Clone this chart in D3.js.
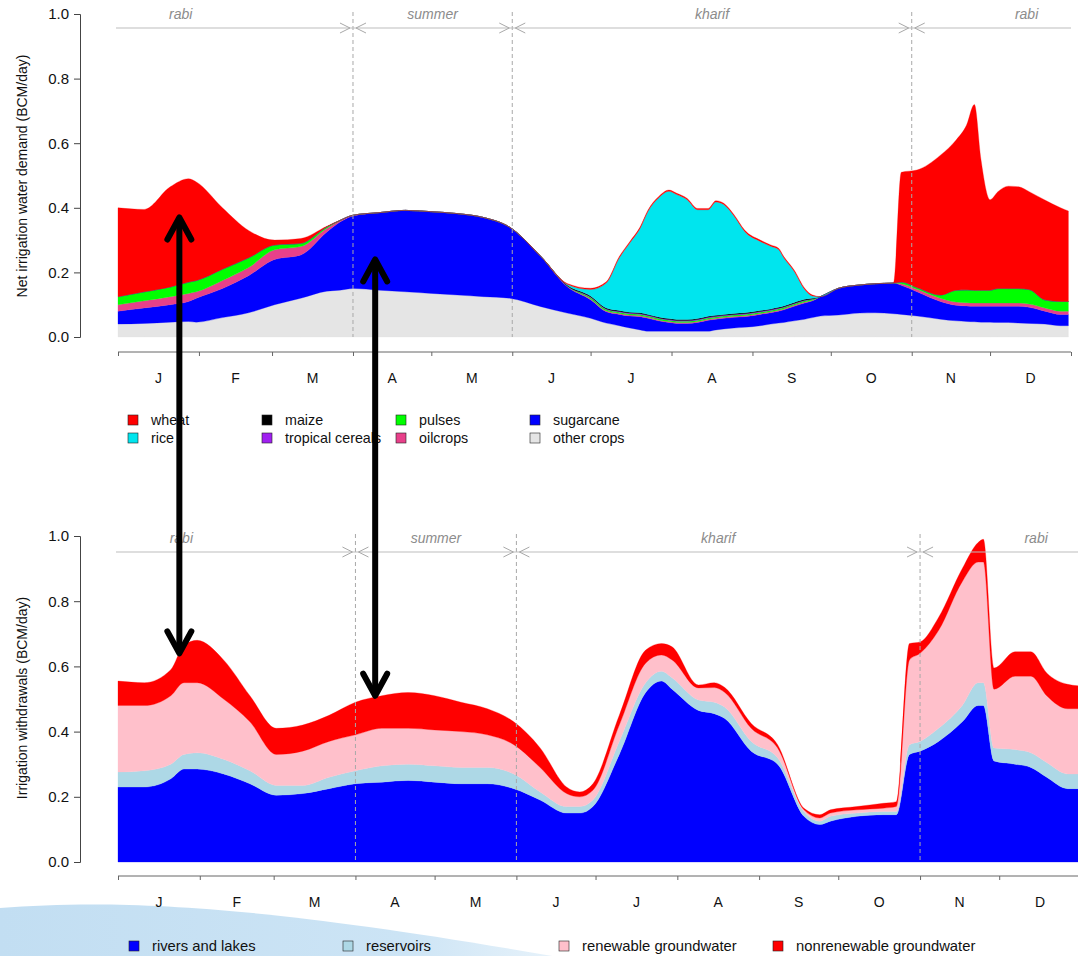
<!DOCTYPE html>
<meta charset="utf-8">
<style>
    body { margin: 0; background: #fff; }
    svg { display: block; font-family: "Liberation Sans", Arial, sans-serif; }
</style>
<body>
<svg width="1078" height="956"></svg>
<script src="https://d3js.org/d3.v7.min.js"></script>
<script>
// month / season bookkeeping (day of year)
var monthDays = [0, 31, 59, 90, 120, 151, 181, 212, 243, 273, 304, 334, 365];
var monthLabels = ["J", "F", "M", "A", "M", "J", "J", "A", "S", "O", "N", "D"];
var seasonBreaks = [90, 151, 304];
var seasonNames = ["rabi", "summer", "kharif", "rabi"];
var seasonLabelDays = [24, 120.5, 227.5, 348];
var yTicks = [0, 0.2, 0.4, 0.6, 0.8, 1.0];

// top panel: net irrigation water demand by crop (BCM/day)
var demandDays = [0, 10, 20, 27, 30, 40, 50, 60, 70, 80,
    85, 90, 100, 110, 120, 130, 140, 150, 162, 172,
    181, 187, 192, 196, 200, 203, 207, 211, 214, 218,
    222, 226, 229, 232, 236, 240, 246, 250, 253, 255,
    259, 263, 266, 269, 276, 284, 290, 297, 300, 306,
    315, 321, 325, 328, 330.5, 334, 337, 341, 345, 349,
    355, 361, 364];
var otherCrops = [.04, .042, .046, .048, .046, .06, .075, .10, .12, .142,
    .145, .15, .145, .14, .135, .13, .125, .12, .094, .074,
    .058, .043, .035, .028, .022, .018, .018, .018, .018, .018,
    .018, .018, .022, .025, .028, .03, .035, .04, .043, .045,
    .05, .055, .06, .065, .068, .074, .075, .072, .07, .065,
    .055, .05, .048, .047, .046, .046, .045, .045, .043, .042,
    .04, .035, .035];
var sugarcane = [.04, .048, .054, .062, .074, .09, .115, .14, .134, .183,
    .211, .225, .24, .252, .253, .252, .245, .22, .155, .082,
    .057, .035, .035, .037, .041, .04, .032, .027, .024, .024,
    .027, .034, .033, .033, .033, .033, .035, .035, .037, .039,
    .045, .05, .052, .06, .083, .087, .09, .095, .09, .075,
    .055, .048, .048, .048, .049, .049, .05, .05, .052, .05,
    .04, .035, .035];
var oilcrops = [.02, .022, .025, .025, .02, .025, .025, .03, .026, .012,
    .004, .002, 0, 0, 0, 0, 0, 0, 0, .002,
    .003, .003, .003, .003, .003, .003, .003, .003, .003, .003,
    .003, .003, .003, .003, .003, .003, .003, .003, .003, .003,
    .003, .003, .002, 0, 0, 0, 0, 0, .005, .008,
    .01, .01, .01, .01, .01, .01, .01, .01, .01, .01,
    .01, .01, .01];
var pulses = [.025, .028, .03, .035, .035, .035, .03, .015, .01, .004,
    .001, 0, 0, 0, 0, 0, 0, 0, 0, .001,
    .004, .004, .004, .004, .004, .004, .004, .004, .004, .004,
    .004, .004, .004, .004, .004, .004, .004, .004, .004, .004,
    .004, .004, .003, 0, 0, 0, 0, 0, .005, .005,
    .01, .037, .04, .04, .04, .04, .045, .045, .045, .045,
    .025, .03, .03];
var tropicalCereals = [0, 0, 0, 0, 0, 0, 0, 0, 0, 0,
    0, 0, 0, 0, 0, 0, 0, 0, 0, 0,
    .002, .002, .002, .002, .002, .002, .002, .002, .002, .002,
    .002, .002, .002, .002, .002, .002, .002, .002, .002, .002,
    .002, .002, .001, 0, 0, 0, 0, 0, 0, 0,
    0, 0, 0, 0, 0, 0, 0, 0, 0, 0,
    0, 0, 0];
var maize = [0, 0, 0, 0, 0, 0, 0, 0, 0, 0,
    0, 0, 0, 0, 0, 0, 0, 0, 0, .002,
    .003, .003, .003, .003, .003, .003, .003, .003, .003, .003,
    .003, .003, .003, .003, .003, .003, .003, .003, .003, .003,
    .003, .003, .002, 0, 0, 0, 0, 0, 0, 0,
    0, 0, 0, 0, 0, 0, 0, 0, 0, 0,
    0, 0, 0];
var rice = [0, 0, 0, 0, 0, 0, 0, 0, 0, 0,
    0, 0, 0, 0, 0, 0, 0, 0, 0, .002,
    .02, .077, .163, .214, .262, .319, .368, .394, .387, .371,
    .337, .330, .351, .34, .301, .252, .214, .194, .179, .149,
    .096, .03, .007, 0, 0, 0, 0, 0, 0, 0,
    0, 0, 0, 0, 0, 0, 0, 0, 0, 0,
    0, 0, 0];
var wheat = [.275, .255, .31, .32, .305, .19, .085, .015, .015, .002,
    0, 0, 0, 0, 0, 0, 0, 0, 0, .003,
    .004, .004, .004, .004, .004, .004, .004, .004, .004, .004,
    .004, .004, .004, .004, .004, .004, .004, .004, .004, .004,
    .004, .004, .003, 0, 0, 0, 0, 0, .34, .364,
    .433, .465, .51, .575, .405, .28, .30, .317, .315, .303,
    .309, .29, .28];

// bottom panel: irrigation withdrawals by source (BCM/day)
var withdrawalDays = [0, 10, 20, 25, 30, 40, 50, 60, 70, 80, 90, 100, 110, 120, 130, 140, 150, 160, 170, 175, 180, 190, 200, 206, 210, 220, 226, 230, 240, 250, 260, 266, 270, 280, 290, 295, 300, 304, 311, 320, 326, 328, 332, 340, 346, 352, 360, 365];
var riversLakes = [.23, .23, .255, .285, .285, .27, .24, .205, .21, .225, .24, .245, .25, .245, .24, .24, .225, .19, .15, .15, .17, .33, .52, .555, .53, .465, .455, .44, .34, .30, .14, .115, .125, .14, .145, .145, .33, .34, .37, .43, .48, .48, .31, .30, .29, .26, .225, .225];
var reservoirs = [.046, .05, .045, .045, .05, .045, .04, .03, .025, .035, .04, .05, .05, .05, .05, .05, .045, .025, .02, .02, .02, .04, .03, .03, .035, .032, .035, .035, .03, .02, .015, .01, .015, .01, .01, .01, .03, .03, .04, .05, .07, .07, .04, .045, .045, .045, .045, .045];
var renewableGw = [.204, .20, .21, .22, .215, .185, .15, .095, .105, .11, .11, .115, .11, .11, .11, .10, .09, .075, .04, .03, .03, .05, .06, .05, .055, .037, .045, .045, .04, .03, .005, .01, .01, .01, .01, .015, .26, .27, .30, .38, .37, .37, .18, .225, .235, .205, .20, .20];
var nonrenewableGw = [.075, .07, .08, .115, .13, .12, .08, .08, .08, .08, .10, .10, .11, .105, .09, .08, .07, .06, .02, .015, .02, .03, .04, .035, .04, .009, .015, .015, .015, .01, .005, .01, .01, .01, .015, .015, .05, .035, .04, .04, .06, .07, .065, .075, .075, .07, .075, .07];

var svg = d3.select("svg");

// light blue swoosh in the lower left corner (slide background)
var grad = svg.append("defs").append("linearGradient")
    .attr("id", "swoosh").attr("x1", "0").attr("x2", "1").attr("y1", "0").attr("y2", "0");
grad.append("stop").attr("offset", "0").attr("stop-color", "#c2def2");
grad.append("stop").attr("offset", "0.7").attr("stop-color", "#cce4f5");
grad.append("stop").attr("offset", "1").attr("stop-color", "#eaf4fb");
svg.append("path")
    .attr("d", "M0,908 C120,899 260,904 575,960 L0,960 Z")
    .attr("fill", "url(#swoosh)");

function drawPanel(cfg) {
    var x = d3.scaleLinear().domain([0, 365]).range(cfg.xRange);
    var y = d3.scaleLinear().domain([0, 1]).range(cfg.yRange);
    var g = svg.append("g");

    var rows = cfg.days.map(function(d, i) {
        var r = { day: d };
        cfg.series.forEach(function(s) { r[s.key] = s.values[i]; });
        return r;
    });
    var stack = d3.stack().keys(cfg.series.map(function(s) { return s.key; }));
    var area = d3.area()
        .curve(d3.curveMonotoneX)
        .x(function(d) { return x(d.data.day); })
        .y0(function(d) { return y(d[0]); })
        .y1(function(d) { return y(d[1]); });

    g.selectAll(".layer")
        .data(stack(rows))
        .enter().append("path")
        .attr("class", "layer")
        .attr("fill", function(d, i) { return cfg.series[i].color; })
        .attr("stroke", function(d, i) { return cfg.series[i].color; })
        .attr("stroke-width", 0.3)
        .attr("d", area);

    // season separators
    g.selectAll(".sep")
        .data(seasonBreaks)
        .enter().append("line")
        .attr("x1", function(d) { return x(d); })
        .attr("x2", function(d) { return x(d); })
        .attr("y1", cfg.yRange[1] - 2)
        .attr("y2", cfg.yRange[0])
        .attr("stroke", "#a8a8a8")
        .attr("stroke-dasharray", "4,3");

    // season arrows and labels
    var sy = cfg.seasonY;
    g.append("line")
        .attr("x1", x(0) - 2).attr("x2", Math.min(x(365), 1078))
        .attr("y1", sy).attr("y2", sy)
        .attr("stroke", "#bdbdbd").attr("stroke-width", 1.2);
    seasonBreaks.forEach(function(b) {
        var bx = x(b);
        [-1, 1].forEach(function(side) {
            var tip = bx + side * 3;
            g.append("path")
                .attr("d", "M" + (tip + side * 10) + "," + (sy - 5) + "L" + tip + "," + sy + "L" + (tip + side * 10) + "," + (sy + 5))
                .attr("fill", "none").attr("stroke", "#a8a8a8").attr("stroke-width", 1);
        });
    });
    g.selectAll(".season")
        .data(seasonNames)
        .enter().append("text")
        .attr("x", function(d, i) { return x(seasonLabelDays[i]); })
        .attr("y", sy - 9)
        .attr("text-anchor", "middle")
        .style("font-size", "14px")
        .style("font-style", "italic")
        .style("fill", "#8c8c8c")
        .text(function(d) { return d; });

    // y axis
    var ya = g.append("g")
        .attr("transform", "translate(80,0)")
        .call(d3.axisLeft(y).tickValues(yTicks).tickFormat(d3.format(".1f")).tickSizeOuter(0).tickSize(6).tickPadding(5));
    ya.select(".domain").attr("stroke", "#444");
    ya.selectAll(".tick line").attr("stroke", "#444");
    ya.selectAll("text").style("font-size", "15px").style("fill", "#111").style("font-family", "Liberation Sans, Arial, sans-serif");

    g.append("text")
        .attr("transform", "translate(27," + cfg.yLabelY + ")rotate(-90)")
        .attr("text-anchor", "middle")
        .style("font-size", "14px")
        .style("fill", "#111")
        .text(cfg.yLabel);

    // x axis with month boundaries as ticks, month initials in between
    var xa = g.append("g")
        .attr("transform", "translate(0," + cfg.xAxisY + ")")
        .call(d3.axisBottom(x).tickValues(monthDays).tickFormat("").tickSizeOuter(0).tickSize(4));
    xa.select(".domain").attr("stroke", "#666").attr("d", "M" + x(0) + ",0H" + Math.min(x(365), 1078));
    xa.selectAll(".tick line").attr("stroke", "#666");

    g.selectAll(".month")
        .data(monthLabels)
        .enter().append("text")
        .attr("x", function(d, i) { return x((monthDays[i] + monthDays[i + 1]) / 2); })
        .attr("y", cfg.xAxisY + 31)
        .attr("text-anchor", "middle")
        .style("font-size", "14px")
        .style("fill", "#111")
        .text(function(d) { return d; });

    // legend
    var lg = g.selectAll(".leg")
        .data(cfg.legend)
        .enter().append("g")
        .attr("transform", function(d) { return "translate(" + d.x + "," + d.y + ")"; });
    lg.append("rect")
        .attr("x", 0).attr("y", -5).attr("width", 10).attr("height", 10)
        .attr("fill", function(d) { return d.color; })
        .attr("stroke", "#222").attr("stroke-width", 0.6);
    lg.append("text")
        .attr("x", 23).attr("y", 5)
        .style("font-size", cfg.legendSize)
        .style("fill", "#111")
        .text(function(d) { return d.name; });
}

var cropColors = {
    wheat: "#ff0000", rice: "#00e5ee", maize: "#000000", trop: "#a020f0",
    pulses: "#00ff00", oil: "#e8408a", sugar: "#0000ff", other: "#e5e5e5"
};

drawPanel({
    days: demandDays,
    xRange: [118, 1071],
    yRange: [337, 14],
    xAxisY: 352,
    seasonY: 28,
    yLabel: "Net irrigation water demand (BCM/day)",
    yLabelY: 176,
    legendSize: "14.3px",
    series: [
        { key: "other", values: otherCrops, color: cropColors.other },
        { key: "sugar", values: sugarcane, color: cropColors.sugar },
        { key: "oil", values: oilcrops, color: cropColors.oil },
        { key: "pulses", values: pulses, color: cropColors.pulses },
        { key: "trop", values: tropicalCereals, color: cropColors.trop },
        { key: "maize", values: maize, color: cropColors.maize },
        { key: "rice", values: rice, color: cropColors.rice },
        { key: "wheat", values: wheat, color: cropColors.wheat }
    ],
    legend: [
        { name: "wheat", color: cropColors.wheat, x: 128, y: 420 },
        { name: "rice", color: cropColors.rice, x: 128, y: 438 },
        { name: "maize", color: cropColors.maize, x: 262, y: 420 },
        { name: "tropical cereals", color: cropColors.trop, x: 262, y: 438 },
        { name: "pulses", color: cropColors.pulses, x: 396, y: 420 },
        { name: "oilcrops", color: cropColors.oil, x: 396, y: 438 },
        { name: "sugarcane", color: cropColors.sugar, x: 530, y: 420 },
        { name: "other crops", color: cropColors.other, x: 530, y: 438 }
    ]
});

drawPanel({
    days: withdrawalDays,
    xRange: [118, 1081],
    yRange: [862, 536],
    xAxisY: 876,
    seasonY: 552,
    yLabel: "Irrigation withdrawals (BCM/day)",
    yLabelY: 698,
    legendSize: "14.8px",
    series: [
        { key: "rivers", values: riversLakes, color: "#0000ff" },
        { key: "res", values: reservoirs, color: "#add8e6" },
        { key: "rgw", values: renewableGw, color: "#ffc0cb" },
        { key: "ngw", values: nonrenewableGw, color: "#ff0000" }
    ],
    legend: [
        { name: "rivers and lakes", color: "#0000ff", x: 129, y: 946 },
        { name: "reservoirs", color: "#add8e6", x: 343, y: 946 },
        { name: "renewable groundwater", color: "#ffc0cb", x: 559, y: 946 },
        { name: "nonrenewable groundwater", color: "#ff0000", x: 773, y: 946 }
    ]
});

// the two black double arrows linking demand peaks to withdrawal peaks
var arrows = [
    { day: 23.5, top: 0.37, bottom: 0.64 },
    { day: 98.5, top: 0.24, bottom: 0.51 }
];
var xTop = d3.scaleLinear().domain([0, 365]).range([118, 1071]);
var yTop = d3.scaleLinear().domain([0, 1]).range([337, 14]);
var yBot = d3.scaleLinear().domain([0, 1]).range([862, 536]);
var ag = svg.append("g")
    .attr("stroke", "#000").attr("stroke-width", 6)
    .attr("fill", "none").attr("stroke-linecap", "round").attr("stroke-linejoin", "round");
arrows.forEach(function(a) {
    var ax = xTop(a.day), y1 = yTop(a.top), y2 = yBot(a.bottom);
    ag.append("line").attr("x1", ax).attr("x2", ax).attr("y1", y1 + 2).attr("y2", y2 - 2);
    ag.append("path").attr("d", "M" + (ax - 12) + "," + (y1 + 22) + "L" + ax + "," + y1 + "L" + (ax + 12) + "," + (y1 + 22));
    ag.append("path").attr("d", "M" + (ax - 12) + "," + (y2 - 22) + "L" + ax + "," + y2 + "L" + (ax + 12) + "," + (y2 - 22));
});
</script>
</body>
